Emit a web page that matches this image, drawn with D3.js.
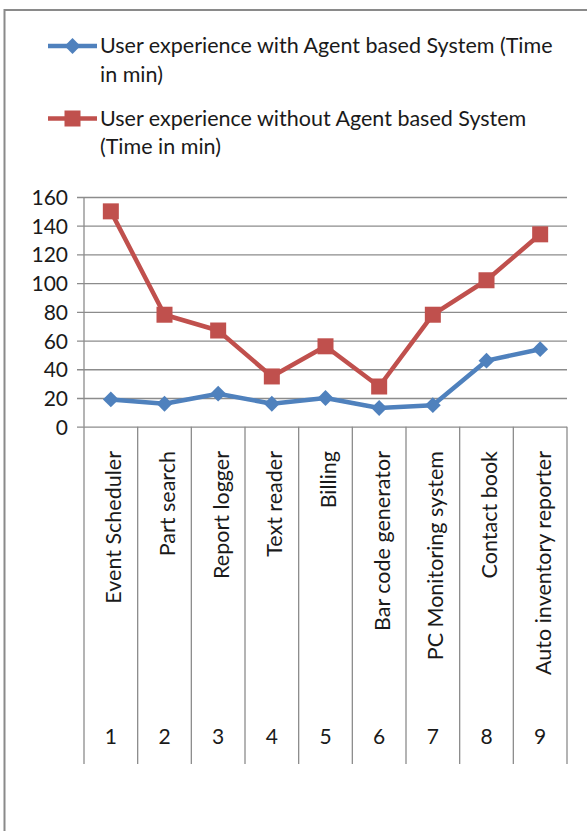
<!DOCTYPE html>
<html>
<head>
<meta charset="utf-8">
<script src="https://cdn.jsdelivr.net/npm/d3@7"></script>
<style>
  html, body { margin: 0; padding: 0; background: #fff; }
  svg { display: block; font-family: Lato, "Open Sans", sans-serif; }
</style>
</head>
<body>
<svg id="chart" width="587" height="831"></svg>
<script>
// Application names and their index labels
const categories = ["Event Scheduler", "Part search", "Report logger", "Text reader", "Billing",
  "Bar code generator", "PC Monitoring system", "Contact book", "Auto inventory reporter"];
const indices = ["1", "2", "3", "4", "5", "6", "7", "8", "9"];

// Completion time in minutes
const withAgent = [19, 16, 23, 16, 20, 13, 15, 46, 54];
const withoutAgent = [150, 78, 67, 35, 56, 28, 78, 102, 134];

const seriesNames = [
  ["User experience with Agent based System (Time", "in min)"],
  ["User experience without Agent based System", "(Time in min)"]
];
const yTicks = [0, 20, 40, 60, 80, 100, 120, 140, 160];

const blue = "#4F81BD", red = "#C0504D", gridColor = "#8c8c8c", textColor = "#1a1a1a";
const labelSize = 21.5, tickSize = 21;

const svg = d3.select("#chart");

// outer chart frame
svg.append("rect")
  .attr("x", 4.5).attr("y", 10).attr("width", 600).attr("height", 840)
  .attr("fill", "none").attr("stroke", "#8a8a8a").attr("stroke-width", 2);

const plotLeft = 84, plotRight = 567, plotTop = 197, plotBottom = 426.7, axisBottom = 764;

const x = d3.scaleBand().domain(d3.range(categories.length)).range([plotLeft, plotRight]).padding(0);
const y = d3.scaleLinear().domain([0, 160]).range([plotBottom, plotTop]);

// horizontal gridlines with ticks
const yAxis = d3.axisLeft(y).tickValues(yTicks).tickSize(-(plotRight - plotLeft)).tickPadding(16);
const gy = svg.append("g").attr("transform", `translate(${plotLeft},0)`).call(yAxis);
gy.select(".domain").remove();
gy.selectAll(".tick line").attr("stroke", gridColor).attr("stroke-width", 1.3).attr("x1", -7);
gy.selectAll(".tick text")
  .attr("font-size", tickSize).attr("fill", textColor).attr("font-family", "Lato, sans-serif")
  .attr("dy", "0.36em");

// vertical axis line
svg.append("line")
  .attr("x1", plotLeft).attr("x2", plotLeft).attr("y1", plotTop).attr("y2", plotBottom)
  .attr("stroke", gridColor).attr("stroke-width", 1.3);

// category dividers running down through the two label rows
const bounds = d3.range(categories.length + 1).map(i => i < categories.length ? x(i) : plotRight);
svg.append("g").selectAll("line").data(bounds).join("line")
  .attr("x1", d => d).attr("x2", d => d)
  .attr("y1", plotBottom).attr("y2", axisBottom)
  .attr("stroke", gridColor).attr("stroke-width", 1.3);

// rotated category names
svg.append("g").selectAll("text").data(categories).join("text")
  .attr("transform", (d, i) => `translate(${x(i) + x.bandwidth() / 2 + 3},451) rotate(-90)`)
  .attr("text-anchor", "end")
  .attr("dy", "0.35em")
  .attr("font-size", labelSize)
  .attr("fill", textColor)
  .text(d => d);

// index numbers
svg.append("g").selectAll("text").data(indices).join("text")
  .attr("x", (d, i) => x(i) + x.bandwidth() / 2)
  .attr("y", 736)
  .attr("text-anchor", "middle")
  .attr("dy", "0.36em")
  .attr("font-size", tickSize)
  .attr("fill", textColor)
  .text(d => d);

const cx = i => x(i) + x.bandwidth() / 2;
const line = d3.line().x((d, i) => cx(i)).y(d => y(d));

// series without agent (red, square markers)
svg.append("path").datum(withoutAgent)
  .attr("d", line).attr("fill", "none").attr("stroke", red)
  .attr("stroke-width", 4.5).attr("stroke-linejoin", "round");
svg.append("g").selectAll("rect").data(withoutAgent).join("rect")
  .attr("x", (d, i) => cx(i) - 8).attr("y", d => y(d) - 8)
  .attr("width", 16).attr("height", 16).attr("fill", red);

// series with agent (blue, diamond markers)
svg.append("path").datum(withAgent)
  .attr("d", line).attr("fill", "none").attr("stroke", blue)
  .attr("stroke-width", 4.5).attr("stroke-linejoin", "round");
const diamond = d3.symbol().type(d3.symbolDiamond2).size(160);
svg.append("g").selectAll("path").data(withAgent).join("path")
  .attr("d", diamond)
  .attr("transform", (d, i) => `translate(${cx(i)},${y(d)})`)
  .attr("fill", blue);

// legend
const legend = svg.append("g");
const legendRows = [
  { color: blue, marker: "diamond", y: 46, lines: seriesNames[0], base: [53, 81.5] },
  { color: red, marker: "square", y: 118.5, lines: seriesNames[1], base: [126, 154] }
];
legendRows.forEach(r => {
  legend.append("line")
    .attr("x1", 48).attr("x2", 97).attr("y1", r.y).attr("y2", r.y)
    .attr("stroke", r.color).attr("stroke-width", 4.5);
  if (r.marker === "diamond") {
    legend.append("path").attr("d", diamond)
      .attr("transform", `translate(72.5,${r.y})`).attr("fill", r.color);
  } else {
    legend.append("rect").attr("x", 64.5).attr("y", r.y - 8)
      .attr("width", 16).attr("height", 16).attr("fill", r.color);
  }
  r.lines.forEach((t, k) => {
    legend.append("text")
      .attr("x", 100).attr("y", r.base[k])
      .attr("font-size", labelSize).attr("fill", textColor)
      .text(t);
  });
});
</script>
</body>
</html>
